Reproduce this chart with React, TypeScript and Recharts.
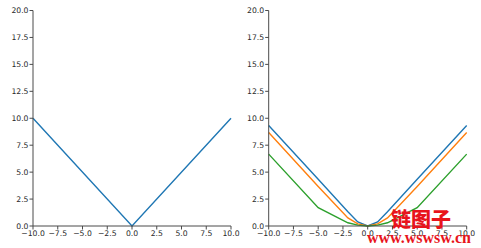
import { LineChart, Line, XAxis, YAxis } from 'recharts'

const xTicks = [-10, -7.5, -5, -2.5, 0, 2.5, 5, 7.5, 10]
const yTicks = [0, 2.5, 5, 7.5, 10, 12.5, 15, 17.5, 20]

// left panel: |x|
const xLeft = [-10, 0, 10]
const absLoss = [10, 0, 10]

// right panel: three smoothed versions
const xRight = [-10, -5, -2, -1, 0, 1, 2, 5, 10]
const blueLoss = [9.33, 4.33, 1.33, 0.38, 0, 0.38, 1.33, 4.33, 9.33]
const orangeLoss = [8.67, 3.67, 0.75, 0.19, 0, 0.19, 0.75, 3.67, 8.67]
const greenLoss = [6.67, 1.7, 0.3, 0.08, 0, 0.08, 0.3, 1.7, 6.67]

const leftData = xLeft.map((x, i) => ({ x, y: absLoss[i] }))
const rightData = xRight.map((x, i) => ({
  x,
  a: blueLoss[i],
  b: orangeLoss[i],
  c: greenLoss[i],
}))

const fmt = (v: number) => (v < 0 ? '\u2212' + Math.abs(v).toFixed(1) : v.toFixed(1))

const tickStyle = { fill: '#2a2a2a', fontSize: 7.7, fontFamily: 'DejaVu Sans' }
const axisColor = '#4a4a4a'

function Frame({ yWidth }: { yWidth: number }) {
  return [
    <XAxis
      key="xb"
      dataKey="x"
      type="number"
      domain={[-10, 10]}
      ticks={xTicks}
      tickFormatter={fmt}
      tick={tickStyle}
      stroke={axisColor}
      tickSize={3.5}
      tickMargin={1}
      height={22}
      interval={0}
    />,
    <XAxis
      key="xt"
      xAxisId="top"
      orientation="top"
      dataKey="x"
      type="number"
      domain={[-10, 10]}
      tick={false}
      tickLine={false}
      stroke={axisColor}
      height={0}
    />,
    <YAxis
      key="yl"
      type="number"
      domain={[0, 20]}
      ticks={yTicks}
      tickFormatter={fmt}
      tick={tickStyle}
      stroke={axisColor}
      tickSize={3.5}
      tickMargin={1}
      width={yWidth}
      interval={0}
    />,
    <YAxis
      key="yr"
      yAxisId="right"
      orientation="right"
      type="number"
      domain={[0, 20]}
      tick={false}
      tickLine={false}
      stroke={axisColor}
      width={0}
    />,
  ]
}

export default function App() {
  return (
    <div style={{ position: 'fixed', left: 0, top: 0, width: 481, height: 248, background: '#fff' }}>
      <div style={{ position: 'absolute', left: 0, top: 0 }}>
        <LineChart width={240} height={248} data={leftData} margin={{ top: 10.5, right: 9, left: 0, bottom: 0 }}>
          {Frame({ yWidth: 33 })}
          <Line dataKey="y" stroke="#1f77b4" strokeWidth={1.4} dot={false} isAnimationActive={false} />
        </LineChart>
      </div>
      <div style={{ position: 'absolute', left: 240, top: 0 }}>
        <LineChart width={241} height={248} data={rightData} margin={{ top: 10.5, right: 14.3, left: 0, bottom: 0 }}>
          {Frame({ yWidth: 28.7 })}
          <Line dataKey="a" stroke="#1f77b4" strokeWidth={1.4} dot={false} isAnimationActive={false} />
          <Line dataKey="b" stroke="#ff7f0e" strokeWidth={1.4} dot={false} isAnimationActive={false} />
          <Line dataKey="c" stroke="#2ca02c" strokeWidth={1.4} dot={false} isAnimationActive={false} />
        </LineChart>
      </div>
      <div
        style={{
          position: 'absolute',
          left: 391,
          top: 208,
          color: '#e8141c',
          fontFamily: '"Noto Sans CJK SC"',
          fontWeight: 900,
          fontSize: 20,
          lineHeight: '22px',
        }}
      >
        链图子
      </div>
      <div
        style={{
          position: 'absolute',
          left: 367,
          top: 229,
          color: '#e8141c',
          fontFamily: '"Liberation Serif"',
          fontWeight: 700,
          fontSize: 16,
          lineHeight: '18px',
        }}
      >
        www.wswsw.cn
      </div>
    </div>
  )
}
